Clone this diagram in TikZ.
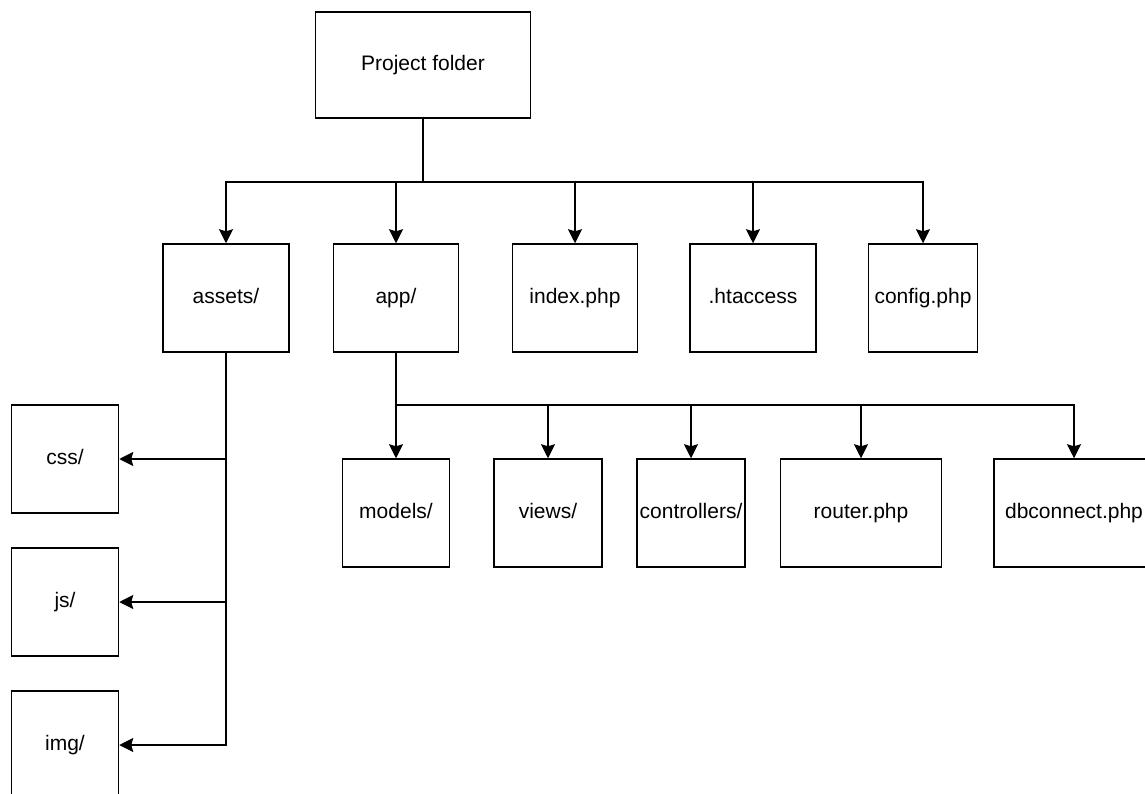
\documentclass[tikz,border=0pt]{standalone}
\usepackage{fontspec}
\setmainfont{Liberation Sans}
\usetikzlibrary{positioning,arrows.meta}
\tikzset{%
  every folder/.style={
    draw=black,
    line width=1.5pt,
    minimum height=108pt,
    text height=15pt,
    text depth=4pt,
    inner sep=0pt
  },
}

\begin{document}
\begin{tikzpicture}[x=1pt,y=-1pt,>={Stealth[length=14pt,width=14pt,inset=2pt]},font=\fontsize{21}{25}\selectfont]
        \tikzstyle{box}=[every folder]
        \tikzstyle{link}=[line width=1.5pt]
        \useasboundingbox (0,0) rectangle (1145,794);
        \clip (0,0) rectangle (1145,794);

        \node[box,minimum width=215pt,minimum height=106pt] (project) at (423,65) {Project folder};

        \node[box,minimum width=126pt] (assets) at (226,298) {assets/};
        \node[box,minimum width=125pt] (app) at (396,298) {app/};
        \node[box,minimum width=125pt] (index) at (575,298) {index.php};
        \node[box,minimum width=126pt] (htaccess) at (753,298) {.htaccess};
        \node[box,minimum width=109pt] (config) at (923,298) {config.php};

        \node[box,minimum width=107pt] (css) at (65,459) {css/};
        \node[box,minimum width=107pt] (js) at (65,602) {js/};
        \node[box,minimum width=107pt] (img) at (65,745) {img/};

        \node[box,minimum width=107pt] (models) at (396,513) {models/};
        \node[box,minimum width=108pt] (views) at (548,513) {views/};
        \node[box,minimum width=108pt] (controllers) at (691,513) {controllers/};
        \node[box,minimum width=161pt] (router) at (861,513) {router.php};
        \node[box,minimum width=160pt] (dbconnect) at (1074,513) {dbconnect.php};

        \coordinate (split) at (423,182);
        \coordinate (appsplit) at (396,405);

        \draw[link] (project) -- (split);
        \foreach \n in {assets,app,index,htaccess,config}
            \draw[link,->] (split) -| (\n);

        \draw[link] (app) -- (appsplit);
        \foreach \n in {models,views,controllers,router,dbconnect}
            \draw[link,->] (appsplit) -| (\n);

        \foreach \n in {css,js,img}
            \draw[link,->] (assets) |- (\n);
\end{tikzpicture}
\end{document}
